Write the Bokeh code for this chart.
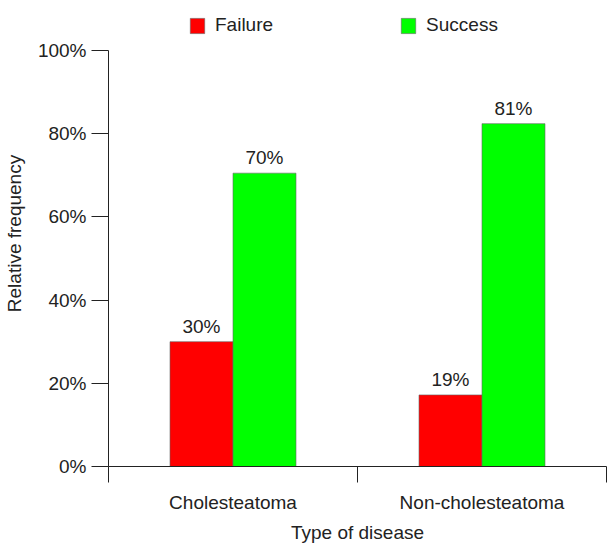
from bokeh.plotting import figure
from bokeh.models import (ColumnDataSource, FixedTicker, PrintfTickFormatter, LinearAxis,
                          Legend, LegendItem, Range1d, LabelSet)
from bokeh.core.properties import value
from bokeh.embed import file_html
from bokeh.resources import INLINE

categories = ["Cholesteatoma", "Non-cholesteatoma"]
failure = [30.0, 17.2]
success = [70.5, 82.4]
failure_labels = ["30%", "19%"]
success_labels = ["70%", "81%"]
y_ticks = [0, 20, 40, 60, 80, 100]

FONT = "Liberation Sans"
FS = "19px"
RED = "#ff0000"
GREEN = "#00ff00"

centers = [i + 0.5 for i in range(len(categories))]
dodge = 0.1265
bw = 0.253

src_f = ColumnDataSource(dict(x=[c - dodge for c in centers], top=failure, lab=failure_labels))
src_s = ColumnDataSource(dict(x=[c + dodge for c in centers], top=success, lab=success_labels))

# frame spans the full top (room for the legend); axis itself is bounded to 0..100
p = figure(frame_width=498, frame_height=466, output_backend="svg", toolbar_location=None,
           x_range=Range1d(0, len(categories)), y_range=Range1d(0, 112.0),
           x_axis_location=None, y_axis_location=None,
           min_border_left=108, min_border_right=1, min_border_top=0, min_border_bottom=79)
p.outline_line_color = None
p.grid.visible = False
p.background_fill_color = "white"
p.border_fill_color = "white"

rf = p.vbar(x="x", top="top", width=bw, bottom=0, source=src_f,
            fill_color=RED, line_color="#666666", line_width=0.6)
rs = p.vbar(x="x", top="top", width=bw, bottom=0, source=src_s,
            fill_color=GREEN, line_color="#666666", line_width=0.6)

for src in (src_f, src_s):
    p.add_layout(LabelSet(x="x", y="top", text="lab", source=src, text_align="center",
                          text_baseline="bottom", y_offset=5, text_font=value(FONT),
                          text_font_size=value(FS), text_color="#222222"))

# y axis
yax = LinearAxis(ticker=FixedTicker(ticks=y_ticks), formatter=PrintfTickFormatter(format="%d%%"),
                 axis_label="Relative frequency", bounds=(0, 100))
yax.major_tick_out = 17
yax.major_tick_in = 0
yax.minor_tick_out = 0
yax.minor_tick_in = 0
yax.major_label_standoff = 5
yax.axis_label_standoff = 10
yax.major_label_text_font = FONT
yax.major_label_text_font_size = FS
yax.major_label_text_color = "#222222"
yax.axis_label_text_font = FONT
yax.axis_label_text_font_size = FS
yax.axis_label_text_font_style = "normal"
yax.axis_label_text_color = "#222222"
yax.axis_line_color = "#222222"
yax.major_tick_line_color = "#222222"
p.add_layout(yax, "left")

# x axis: labels at category centres, ticks at category boundaries
xax = LinearAxis(ticker=FixedTicker(ticks=centers, minor_ticks=list(range(len(categories) + 1))),
                 axis_label="Type of disease")
xax.major_label_overrides = {c: lab for c, lab in zip(centers, categories)}
xax.major_tick_out = 0
xax.major_tick_in = 0
xax.minor_tick_out = 16
xax.minor_tick_in = 0
xax.minor_tick_line_color = "#222222"
xax.major_label_standoff = 9
xax.axis_label_standoff = 6
xax.major_label_text_font = FONT
xax.major_label_text_font_size = FS
xax.major_label_text_color = "#222222"
xax.axis_label_text_font = FONT
xax.axis_label_text_font_size = FS
xax.axis_label_text_font_style = "normal"
xax.axis_label_text_color = "#222222"
xax.axis_line_color = "#222222"
p.add_layout(xax, "below")

legend = Legend(items=[LegendItem(label="Failure", renderers=[rf]),
                       LegendItem(label="Success", renderers=[rs])],
                orientation="horizontal", location=(80, 430),
                spacing=126, glyph_width=18, glyph_height=19, label_standoff=9,
                label_text_font=FONT, label_text_font_size=FS, label_text_color="#222222",
                border_line_color=None, background_fill_alpha=0, padding=0, margin=0)
p.add_layout(legend, "center")

open("out.html", "w").write(file_html(p, INLINE))
